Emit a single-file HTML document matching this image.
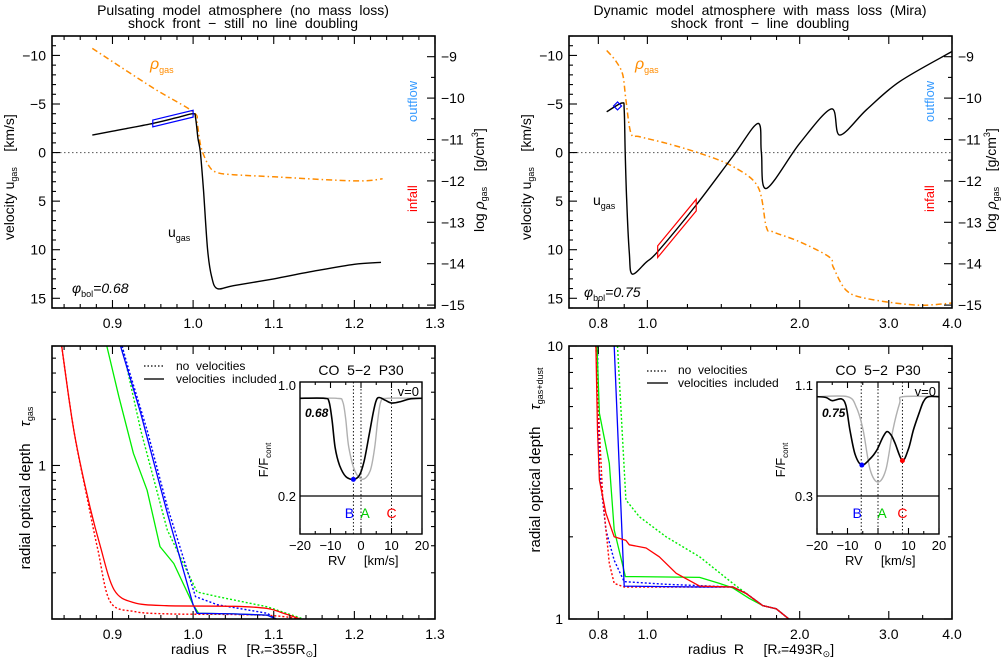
<!DOCTYPE html>
<html><head><meta charset="utf-8">
<style>
html,body{margin:0;padding:0;background:#fff;}
svg{display:block;font-family:"Liberation Sans",sans-serif;}
text{white-space:pre;}
</style></head>
<body>
<svg id="fig" width="1001" height="658" viewBox="0 0 1001 658" xmlns="http://www.w3.org/2000/svg" xml:space="preserve"></svg>
<script>
// ---------- DATA ----------
const tlUR = [0.875,0.9,0.95,0.98,1.0,1.003,1.006,1.009,1.013,1.018,1.023,1.03,1.05,1.1,1.15,1.2,1.233];
const tlUV = [-1.8,-2.2,-3.0,-3.6,-4.0,-3.6,-1.5,0,4,10,12.8,14,13.7,13.0,12.2,11.5,11.3];
const tlRhoR = [0.875,0.95,1.0,1.005,1.01,1.02,1.03,1.05,1.1,1.2,1.235];
const tlRhoV = [-8.8,-9.75,-10.33,-10.6,-11.2,-11.65,-11.8,-11.85,-11.9,-12.0,-11.95];
const trUR = [0.831,0.891,0.900,0.904,0.910,0.921,0.933,0.994,1.048,1.249,1.475,1.654,1.68,1.718,2.0,2.31,2.40,2.71,3.15,4.0];
const trUV = [-4.2,-5.1,-4.4,0,4.9,10.3,12.5,11.3,10.2,5.4,0.4,-3.0,0,3.7,-0.95,-4.5,-1.8,-4.4,-7.3,-10.4];
const trRhoR = [0.831,0.867,0.894,0.907,0.928,0.964,1.089,1.268,1.475,1.654,1.718,1.77,2.0,2.29,2.33,2.47,2.71,3.4,4.0];
const trRhoV = [-8.85,-9.11,-9.44,-10.04,-10.85,-10.93,-11.09,-11.33,-11.65,-12.14,-13.11,-13.23,-13.47,-13.84,-14.08,-14.64,-14.84,-15.0,-14.95];
const blRedR = [0.837,0.852,0.869,0.885,0.902,0.926,0.967,1.05,1.092,1.112,1.133];
const blRedT = [6,1.70,0.63,0.296,0.155,0.128,0.122,0.121,0.117,0.109,0.1];
const blRedDR = [0.837,0.852,0.869,0.882,0.897,0.926,0.97,1.05,1.1,1.135];
const blRedDT = [6,1.7,0.6,0.28,0.13,0.112,0.108,0.107,0.105,0.1];
const blGrnR = [0.893,0.908,0.926,0.943,0.959,0.976,1.0,1.007,1.05,1.092,1.103];
const blGrnT = [6,2.8,1.2,0.69,0.296,0.23,0.124,0.109,0.108,0.106,0.1];
const blGrnDR = [0.912,0.935,0.968,1.005,1.030,1.092,1.137];
const blGrnDT = [6,1.7,0.38,0.15,0.14,0.12,0.1];
const blBluR = [0.910,0.935,0.968,1.0,1.005,1.05,1.092,1.103];
const blBluT = [6,2.19,0.49,0.124,0.109,0.108,0.106,0.1];
const blBluDR = [0.912,0.918,0.943,0.968,1.003,1.03,1.092,1.103];
const blBluDT = [6,4.6,1.7,0.54,0.14,0.124,0.109,0.1];
const brRedR = [0.791,0.797,0.804,0.828,0.860,0.907,0.921,0.994,1.056,1.14,1.268,1.475,1.568,1.69,1.797,1.904];
const brRedT = [10,4.92,3.23,2.44,2.0,1.94,1.87,1.82,1.69,1.47,1.32,1.31,1.24,1.12,1.09,1.0];
const brRedDR = [0.791,0.804,0.816,0.841,0.860,0.900,1.268,1.475,1.568,1.69,1.797,1.904];
const brRedDT = [10,4.92,2.8,1.6,1.35,1.31,1.31,1.31,1.24,1.12,1.09,1.0];
const brBluR = [0.860,0.900,1.268,1.475,1.568,1.69,1.797,1.904];
const brBluT = [10,1.32,1.31,1.31,1.24,1.12,1.09,1.0];
const brBluDR = [0.797,0.804,0.828,0.860,0.900,1.089,1.475,1.568,1.69,1.797,1.904];
const brBluDT = [10,3.5,2.12,1.64,1.37,1.34,1.31,1.24,1.12,1.09,1.0];
const brGrnR = [0.795,0.804,0.841,0.860,0.905,0.936,1.268,1.388,1.475,1.59,1.69,1.797,1.904];
const brGrnT = [10,5.67,3.72,2.12,1.43,1.43,1.42,1.35,1.30,1.19,1.12,1.09,1.0];
const brGrnDR = [0.873,0.907,0.964,1.089,1.268,1.475,1.69,1.797,1.904];
const brGrnDT = [10,2.73,2.37,2.0,1.69,1.35,1.12,1.09,1.0];
const ilRV = [-20,-12,-10.5,-9.5,-8.5,-7,-5,-2.5,-0.5,1,2.5,4,5,6,8,10,13,16,20];
const ilF  = [0.904,0.904,0.88,0.75,0.55,0.42,0.34,0.32,0.35,0.45,0.62,0.8,0.89,0.91,0.89,0.87,0.88,0.9,0.904];
const ilGRV = [-20,-8,-6,-5,-4,-2,0.5,3,4.5,5.5,6.5,8.5,20];
const ilGF  = [0.904,0.904,0.88,0.75,0.55,0.38,0.32,0.38,0.55,0.75,0.88,0.904,0.904];
const ilMarks = [-2.5,0,10];
const irRV = [-20,-17,-15,-12,-10.5,-9.2,-7.5,-5.3,-2.5,-0.4,1.5,2.9,4.3,5.6,8.0,10,11.6,13.5,14.9,16.5,20];
const irF  = [1.016,1.01,0.987,1.0,0.95,0.776,0.6,0.523,0.57,0.63,0.72,0.764,0.74,0.68,0.555,0.64,0.776,0.9,0.98,1.016,1.016];
const irGRV = [-20,-10,-7.1,-4.9,-2.6,0,2.6,4.9,7.1,8.2,20];
const irGF  = [1.016,1.016,0.94,0.776,0.49,0.40,0.49,0.776,0.97,1.016,1.016];
const irMarks = [-5.5,0,8];

// ---------- HELPERS ----------
const NS="http://www.w3.org/2000/svg";
const svg=document.getElementById('fig');
function el(tag,attrs,parent){const e=document.createElementNS(NS,tag);for(const k in attrs)e.setAttribute(k,attrs[k]);(parent||svg).appendChild(e);return e;}
function lin(d0,d1,p0,p1){return v=>p0+(v-d0)/(d1-d0)*(p1-p0);}
function lg(d0,d1,p0,p1){const a=Math.log10(d0),b=Math.log10(d1);return v=>p0+(Math.log10(v)-a)/(b-a)*(p1-p0);}
function pth(xs,ys,sx,sy,smooth){
  const P=xs.map((x,i)=>[sx(x),sy(ys[i])]);
  if(!smooth) return P.map((p,i)=>(i?'L':'M')+p[0].toFixed(1)+' '+p[1].toFixed(1)).join(' ');
  let d='M'+P[0][0].toFixed(1)+' '+P[0][1].toFixed(1);
  const k=0.16;
  for(let i=0;i<P.length-1;i++){
    const p0=P[Math.max(0,i-1)],p1=P[i],p2=P[i+1],p3=P[Math.min(P.length-1,i+2)];
    const c1=[p1[0]+(p2[0]-p0[0])*k,p1[1]+(p2[1]-p0[1])*k];
    const c2=[p2[0]-(p3[0]-p1[0])*k,p2[1]-(p3[1]-p1[1])*k];
    d+=' C'+c1[0].toFixed(1)+' '+c1[1].toFixed(1)+' '+c2[0].toFixed(1)+' '+c2[1].toFixed(1)+' '+p2[0].toFixed(1)+' '+p2[1].toFixed(1);
  }
  return d;
}
let clipN=0;
function clip(x0,y0,x1,y1){const id='c'+(clipN++);const cp=el('clipPath',{id:id});el('rect',{x:x0,y:y0,width:x1-x0,height:y1-y0},cp);return 'url(#'+id+')';}
function line(name,xs,ys,sx,sy,stroke,w,dash,cl,smooth){
  const p=el('path',{d:pth(xs,ys,sx,sy,smooth!==false),fill:'none',stroke:stroke,'stroke-width':w,'clip-path':cl,'stroke-linejoin':'round'});
  if(dash)p.setAttribute('stroke-dasharray',dash);
  
  
  return p;
}
function txt(name,x,y,s,size,opts){
  const t=el('text',Object.assign({x:x,y:y,'font-size':size,fill:'#000'},opts||{}));
  t.innerHTML=s;
  
  
  return t;
}
function frame(name,x0,y0,x1,y1,w){
  const r=el('rect',{x:x0,y:y0,width:x1-x0,height:y1-y0,fill:'none',stroke:'#000','stroke-width':w||1.6});
  
  
}
function tick(x1,y1,x2,y2){el('line',{x1:x1,y1:y1,x2:x2,y2:y2,stroke:'#000','stroke-width':1.1});}

const TL={x0:52,x1:435,y0:36,y1:308};
const TR={x0:569,x1:952,y0:36,y1:308};
const BL={x0:52,x1:435,y0:346,y1:619};
const BR={x0:569,x1:952,y0:346,y1:619};
const xTL=lin(0.825,1.3,TL.x0,TL.x1);
const xTR=lg(0.7,4.0,TR.x0,TR.x1);
const vTL=lin(-12,16,TL.y0,TL.y1);
const rTL=lin(-8.5,-15.07,TL.y0,TL.y1);
const vTR=vTL, rTR=rTL;
const tBL=lg(0.1,6,BL.y1,BL.y0);
const tBR=lg(1,10,BR.y1,BR.y0);

function linXTicks(P,sx,lab){
  for(let v=0.84;v<=1.3001;v+=0.02){const x=sx(v);const maj=Math.abs(v*10-Math.round(v*10))<1e-6;const L=maj?8:4;tick(x,P.y1,x,P.y1-L);tick(x,P.y0,x,P.y0+L);}
  if(lab){[0.9,1.0,1.1,1.2,1.3].forEach(v=>txt('x-tick-label',sx(v),P.y1+20,v.toFixed(1),14,{'text-anchor':'middle'}));}
}
function logXTicks(P,sx,lab){
  const maj=[0.8,1.0,2.0,3.0,4.0];
  const mn=[0.7,0.9,1.2,1.4,1.6,1.8,2.5,3.5];
  maj.forEach(v=>{const x=sx(v);tick(x,P.y1,x,P.y1-8);tick(x,P.y0,x,P.y0+8);});
  mn.forEach(v=>{const x=sx(v);tick(x,P.y1,x,P.y1-4);tick(x,P.y0,x,P.y0+4);});
  if(lab)maj.forEach(v=>txt('x-tick-label',sx(v),P.y1+20,v.toFixed(1),14,{'text-anchor':'middle'}));
}
function velYTicks(P,sy,ry){
  for(let v=-12;v<=16;v++){const y=sy(v);const L=(v%5===0)?8:4;tick(P.x0,y,P.x0+L,y);}
  [-10,-5,0,5,10,15].forEach(v=>txt('y-tick-label',P.x0-6,sy(v)+5,(v<0?'−':'')+Math.abs(v),14,{'text-anchor':'end'}));
  for(let r=-8.5;r>=-15.01;r-=0.5){const y=ry(r);const L=(Math.abs(r-Math.round(r))<1e-6)?8:4;tick(P.x1,y,P.x1-L,y);}
  [-9,-10,-11,-12,-13,-14,-15].forEach(r=>txt('y2-tick-label',P.x1+6,ry(r)+5,'−'+Math.abs(r),14,{}));
}
function logYTicks(P,sy,d0,d1,labs){
  for(let e=Math.floor(Math.log10(d0));e<=Math.ceil(Math.log10(d1));e++){
    for(let m=1;m<10;m++){const v=m*Math.pow(10,e);if(v<d0*0.999||v>d1*1.001)continue;const y=sy(v);const L=m===1?8:4;tick(P.x0,y,P.x0+L,y);tick(P.x1,y,P.x1-L,y);}
  }
  labs.forEach(v=>txt('y-tick-label',P.x0-6,sy(v)+5,String(v),14,{'text-anchor':'end'}));
}

txt('title-left-line1',243,15,'Pulsating  model  atmosphere  (no  mass  loss)',14,{'text-anchor':'middle'});
txt('title-left-line2',243,28,'shock  front  −  still  no  line  doubling',14,{'text-anchor':'middle'});
txt('title-right-line1',760,15,'Dynamic  model  atmosphere  with  mass  loss  (Mira)',14,{'text-anchor':'middle'});
txt('title-right-line2',760,28,'shock  front  −  line  doubling',14,{'text-anchor':'middle'});

(function(){
  const P=TL, c=clip(P.x0,P.y0,P.x1,P.y1);
  const z=el('line',{x1:P.x0,x2:P.x1,y1:vTL(0),y2:vTL(0),stroke:'#555','stroke-width':1,'stroke-dasharray':'1.5,2.5'});
  
  line('rho-gas-curve',tlRhoR,tlRhoV,xTL,rTL,'#ff8c00',1.5,'6,3,1.5,3',c);
  line('u-gas-curve',tlUR,tlUV,xTL,vTL,'#000',1.4,null,c);
  const a=0.95,b=1.0;const va=-3.0,vb=-4.0,d=0.35;
  const bx=el('polygon',{points:[[xTL(a),vTL(va-d)],[xTL(b),vTL(vb-d)],[xTL(b),vTL(vb+d)],[xTL(a),vTL(va+d)]].map(p=>p.join(',')).join(' '),fill:'none',stroke:'#0000ff','stroke-width':1.2});
  
  frame('top-left-plot-frame',P.x0,P.y0,P.x1,P.y1);
  linXTicks(P,xTL,true);velYTicks(P,vTL,rTL);
  txt('rho-gas-label',150,69,'<tspan font-style="italic">ρ</tspan><tspan font-size="9" dy="4">gas</tspan>',16,{fill:'#ff8c00'});
  txt('u-gas-label',168,237,'u<tspan font-size="9" dy="4">gas</tspan>',14,{});
  txt('phase-label',72,293,'<tspan font-style="italic">φ</tspan><tspan font-size="9" dy="4">bol</tspan><tspan dy="-4" font-style="italic">=0.68</tspan>',14,{});
  txt('outflow-label',417,122,'outflow',13,{fill:'#3399ff',transform:'rotate(-90 417 122)'});
  txt('infall-label',417,212,'infall',13,{fill:'#ff0000',transform:'rotate(-90 417 212)'});
  txt('y-axis-title-velocity',14,240,'velocity u<tspan font-size="9" dy="3">gas</tspan><tspan dy="-3">    [km/s]</tspan>',14,{transform:'rotate(-90 14 240)'});
  txt('y2-axis-title-density',484,232,'log <tspan font-style="italic">ρ</tspan><tspan font-size="9" dy="3">gas</tspan><tspan dy="-3">    [g/cm</tspan><tspan font-size="9" dy="-6">3</tspan><tspan dy="6">]</tspan>',14,{transform:'rotate(-90 484 232)'});
})();

(function(){
  const P=TR, c=clip(P.x0,P.y0,P.x1,P.y1);
  const z=el('line',{x1:P.x0,x2:P.x1,y1:vTR(0),y2:vTR(0),stroke:'#555','stroke-width':1,'stroke-dasharray':'1.5,2.5'});
  
  line('rho-gas-curve',trRhoR,trRhoV,xTR,rTR,'#ff8c00',1.5,'6,3,1.5,3',c);
  line('u-gas-curve',trUR,trUV,xTR,vTR,'#000',1.4,null,c);
  const dx=xTR(0.873),dy=vTR(-4.8);
  const dm=el('polygon',{points:`${dx},${dy-4} ${dx+4},${dy} ${dx},${dy+4} ${dx-4},${dy}`,fill:'none',stroke:'#0000ff','stroke-width':1.2});
  
  const a=1.048,b=1.249,va=10.2,vb=5.4,d=0.6;
  const bx=el('polygon',{points:[[xTR(a),vTR(va-d)],[xTR(b),vTR(vb-d)],[xTR(b),vTR(vb+d)],[xTR(a),vTR(va+d)]].map(p=>p.join(',')).join(' '),fill:'none',stroke:'#ff0000','stroke-width':1.2});
  
  frame('top-right-plot-frame',P.x0,P.y0,P.x1,P.y1);
  logXTicks(P,xTR,true);velYTicks(P,vTR,rTR);
  txt('rho-gas-label',635,69,'<tspan font-style="italic">ρ</tspan><tspan font-size="9" dy="4">gas</tspan>',16,{fill:'#ff8c00'});
  txt('u-gas-label',593,205,'u<tspan font-size="9" dy="4">gas</tspan>',14,{});
  txt('phase-label',584,297,'<tspan font-style="italic">φ</tspan><tspan font-size="9" dy="4">bol</tspan><tspan dy="-4" font-style="italic">=0.75</tspan>',14,{});
  txt('outflow-label',934,122,'outflow',13,{fill:'#3399ff',transform:'rotate(-90 934 122)'});
  txt('infall-label',934,212,'infall',13,{fill:'#ff0000',transform:'rotate(-90 934 212)'});
  txt('y-axis-title-velocity',531,240,'velocity u<tspan font-size="9" dy="3">gas</tspan><tspan dy="-3">    [km/s]</tspan>',14,{transform:'rotate(-90 531 240)'});
  txt('y2-axis-title-density',996,232,'log <tspan font-style="italic">ρ</tspan><tspan font-size="9" dy="3">gas</tspan><tspan dy="-3">    [g/cm</tspan><tspan font-size="9" dy="-6">3</tspan><tspan dy="6">]</tspan>',14,{transform:'rotate(-90 996 232)'});
})();

function inset(prefix,bx0,bx1,by0,by1,sx,sy,fTop,fBot,blk,blkF,gry,gryF,marks,phase,dots){
  const c=clip(bx0,by0,bx1,by1);
  const bg=el('rect',{x:bx0,y:by0,width:bx1-bx0,height:by1-by0,fill:'#fff'});
  
  const cols=['#0000ff','#00cc00','#ff0000'],labs=['B','A','C'];
  marks.forEach((m,i)=>{const l=el('line',{x1:sx(m),x2:sx(m),y1:by0,y2:by1,stroke:'#000','stroke-width':0.9,'stroke-dasharray':'1.5,2'});
    
    const off=i===0?-4:(i===1?4:0);
    txt('marker-label-'+labs[i].toLowerCase(),sx(m)+off,by1-16,labs[i],14,{fill:cols[i],'text-anchor':'middle'});});
  const hl=el('line',{x1:bx0,x2:bx1,y1:sy(fBot),y2:sy(fBot),stroke:'#000','stroke-width':1.2});
  
  line('static-profile',gry,gryF,sx,sy,'#b0b0b0',1.4,null,c);
  line('dynamic-profile',blk,blkF,sx,sy,'#000',1.6,null,c);
  dots.forEach(d=>{const e=el('circle',{cx:sx(d[0]),cy:sy(d[1]),r:2.5,fill:d[2]});});
  frame(prefix+'-frame',bx0,by0,bx1,by1,1.4);
  [-20,-10,0,10,20].forEach(v=>{tick(sx(v),by1,sx(v),by1-6);tick(sx(v),by0,sx(v),by0+6);
    txt('inset-x-tick-label',sx(v),by1+16,(v<0?'−':'')+Math.abs(v),13,{'text-anchor':'middle'});});
  [-15,-5,5,15].forEach(v=>{tick(sx(v),by1,sx(v),by1-3);tick(sx(v),by0,sx(v),by0+3);});
  txt('inset-y-tick-label',bx0-4,sy(fTop)+5,fTop.toFixed(1),13,{'text-anchor':'end'});
  txt('inset-y-tick-label',bx0-4,sy(fBot)+5,fBot.toFixed(1),13,{'text-anchor':'end'});
  txt('inset-title',(bx0+bx1)/2,by0-7,'CO  5−2  P30',14,{'text-anchor':'middle'});
  txt('v-zero-label',bx1-3,by0+14,'v=0',13,{'text-anchor':'end'});
  txt('inset-phase',bx0+5,by0+35,phase,12,{'font-style':'italic','font-weight':'bold'});
  txt('inset-x-title',bx0+28,by1+31,'RV     [km/s]',13,{});
  txt('inset-y-title',bx0-32,by0+78,'F/F<tspan font-size="8" dy="3">cont</tspan>',13,{transform:`rotate(-90 ${bx0-32} ${by0+78})`,'text-anchor':'middle'});
}

(function(){
  const P=BL,c=clip(P.x0,P.y0,P.x1,P.y1);
  line('tau-a-no-vel',blGrnDR,blGrnDT,xTL,tBL,'#00ee00',1.4,'2,2',c,false);
  line('tau-b-no-vel',blBluDR,blBluDT,xTL,tBL,'#0000ff',1.4,'2,2',c,false);
  line('tau-c-no-vel',blRedDR,blRedDT,xTL,tBL,'#ff0000',1.4,'2,2',c);
  line('tau-a-vel',blGrnR,blGrnT,xTL,tBL,'#00ee00',1.3,null,c,false);
  line('tau-b-vel',blBluR,blBluT,xTL,tBL,'#0000ff',1.3,null,c,false);
  line('tau-c-vel',blRedR,blRedT,xTL,tBL,'#ff0000',1.3,null,c);
  frame('bottom-left-plot-frame',P.x0,P.y0,P.x1,P.y1);
  linXTicks(P,xTL,true);logYTicks(P,tBL,0.1,6,[1]);
  const l1=el('line',{x1:144,x2:164,y1:366,y2:366,stroke:'#000','stroke-width':1.3,'stroke-dasharray':'1.5,2'});
  const l2=el('line',{x1:144,x2:164,y1:379,y2:379,stroke:'#555','stroke-width':2});
  txt('legend-no-velocities',176,370,'no  velocities',12,{});
  txt('legend-velocities-included',176,383,'velocities  included',12,{});
  txt('y-axis-title-tau',30,488,'radial optical depth    <tspan font-style="italic">τ</tspan><tspan font-size="9" dy="3">gas</tspan>',15,{transform:'rotate(-90 30 488)','text-anchor':'middle'});
  txt('x-axis-title',171,654,'radius  R     [R<tspan font-size="9" dy="3">*</tspan><tspan dy="-3">=355R</tspan><tspan font-size="9" dy="3">⊙</tspan><tspan dy="-3">]</tspan>',14,{});
  inset('inset-left',300,422,382,534,lin(-20,20,300,422),lin(1.0,0.2,385,496),1.0,0.2,ilRV,ilF,ilGRV,ilGF,ilMarks,'0.68',[[-2.5,0.32,'#0000ff']]);
})();

(function(){
  const P=BR,c=clip(P.x0,P.y0,P.x1,P.y1);
  line('tau-a-no-vel',brGrnDR,brGrnDT,xTR,tBR,'#00ee00',1.4,'2,2',c,false);
  line('tau-b-no-vel',brBluDR,brBluDT,xTR,tBR,'#0000ff',1.4,'2,2',c,false);
  line('tau-c-no-vel',brRedDR,brRedDT,xTR,tBR,'#ff0000',1.4,'2,2',c,false);
  line('tau-a-vel',brGrnR,brGrnT,xTR,tBR,'#00ee00',1.3,null,c,false);
  line('tau-b-vel',brBluR,brBluT,xTR,tBR,'#0000ff',1.3,null,c,false);
  line('tau-c-vel',brRedR,brRedT,xTR,tBR,'#ff0000',1.3,null,c,false);
  frame('bottom-right-plot-frame',P.x0,P.y0,P.x1,P.y1);
  logXTicks(P,xTR,true);logYTicks(P,tBR,1,10,[1,10]);
  const l1=el('line',{x1:647,x2:668,y1:371,y2:371,stroke:'#000','stroke-width':1.3,'stroke-dasharray':'1.5,2'});
  const l2=el('line',{x1:647,x2:668,y1:383,y2:383,stroke:'#555','stroke-width':2});
  txt('legend-no-velocities',678,374,'no  velocities',12,{});
  txt('legend-velocities-included',678,387,'velocities  included',12,{});
  txt('y-axis-title-tau',540,460,'radial optical depth    <tspan font-style="italic">τ</tspan><tspan font-size="9" dy="3">gas+dust</tspan>',15,{transform:'rotate(-90 540 460)','text-anchor':'middle'});
  txt('x-axis-title',688,654,'radius  R     [R<tspan font-size="9" dy="3">*</tspan><tspan dy="-3">=493R</tspan><tspan font-size="9" dy="3">⊙</tspan><tspan dy="-3">]</tspan>',14,{});
  inset('inset-right',817,939,382,534,lin(-20,20,817,939),lin(1.1,0.3,385,496),1.1,0.3,irRV,irF,irGRV,irGF,irMarks,'0.75',[[-5.3,0.523,'#0000ff'],[8.0,0.555,'#ff0000']]);
})();
</script>
</body></html>
